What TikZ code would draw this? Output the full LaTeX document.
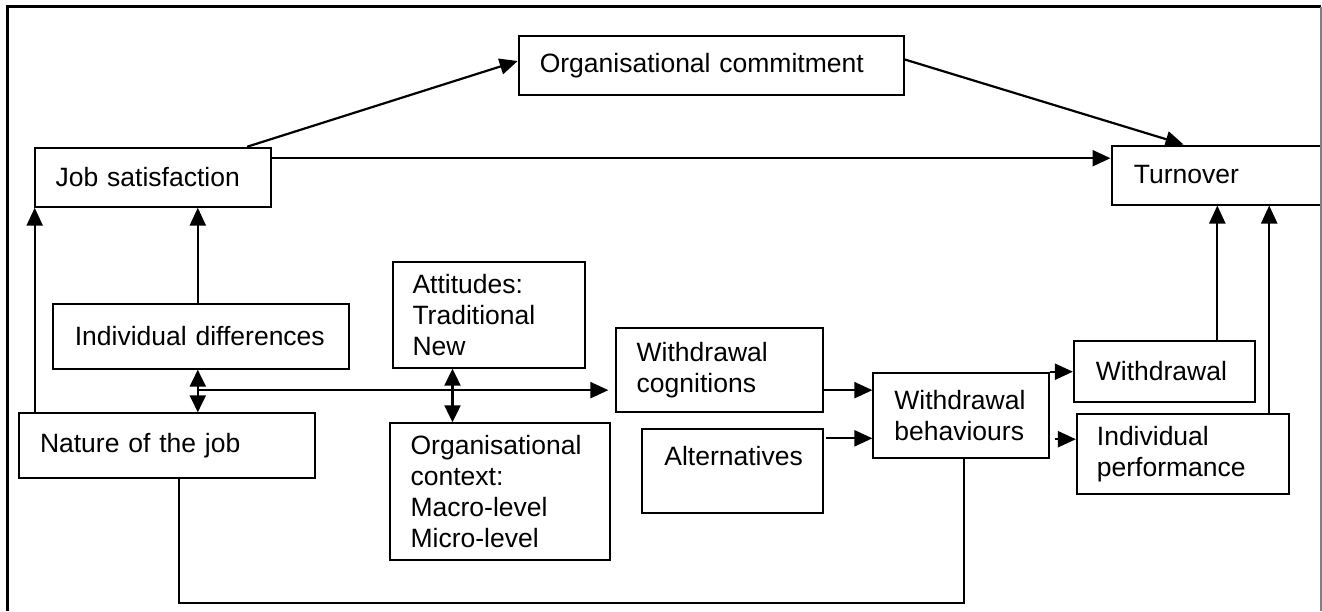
\documentclass[tikz,border=0pt]{standalone}
\usepackage{fontspec}
\setmainfont{Liberation Sans}
\usetikzlibrary{arrows.meta,calc}
\begin{document}
\begin{tikzpicture}[x=1pt,y=-1pt,
  box/.style={draw, line width=2pt, rectangle, anchor=north west, inner sep=0pt, align=left, font=\fontsize{26.5}{31}\selectfont},
  conn/.style={line width=2.2pt},
  arr/.style={conn, -{Triangle[length=18pt,width=16pt]}},
  darr/.style={conn, {Triangle[length=17pt,width=16pt]}-{Triangle[length=17pt,width=16pt]}},
  frameline/.style={line width=3.2pt},
  frameside/.style={gray, line width=1.2pt}
]
\useasboundingbox (0,0) rectangle (1322,611);

% boxes
\node[box, minimum width=385.1pt, minimum height=59pt, text width=343pt] (orgc) at (517.7,35) {Organisational~commitment};
\node[box, minimum width=236.5pt, minimum height=59pt, text width=194.5pt] (jobs) at (33.7,146.7) {Job~satisfaction};
\node[box, minimum width=212.5pt, minimum height=59pt, text width=167.7pt] (turn) at (1110.5,144.5) {Turnover};
\node[box, minimum width=296pt, minimum height=64.7pt, text width=252pt] (inddiff) at (51.8,303) {Individual~differences};
\node[box, minimum width=192.3pt, minimum height=106pt, text width=152.3pt] (att) at (391.5,260.7) {Attitudes:\\Traditional\\New};
\node[box, minimum width=296.3pt, minimum height=65pt, text width=253.7pt] (nature) at (17.7,412.3) {Nature~of~the~job};
\node[box, minimum width=220pt, minimum height=137pt, text width=178.8pt] (orgctx) at (389,422.3) {Organisational\\context:\\Macro-level\\Micro-level};
\node[box, minimum width=206.3pt, minimum height=83.7pt, text width=165.7pt] (wcog) at (615.4,327.3) {Withdrawal\\cognitions};
\node[box, minimum width=181.1pt, minimum height=84pt, text width=135.5pt] (alt) at (640.6,428.3) {Alternatives\\\mbox{}};
\node[box, minimum width=175.2pt, minimum height=85pt, text width=133.2pt] (wb) at (872.4,371.7) {Withdrawal\\behaviours};
\node[box, minimum width=181.1pt, minimum height=60.7pt, text width=137.1pt] (wd) at (1072.9,340) {Withdrawal};
\node[box, minimum width=211.9pt, minimum height=80pt, text width=171.9pt] (ip) at (1075.9,412.7) {Individual\\performance};

% frame
\draw[frameline] (7.5,611) -- (7.5,6.5) -- (1321,6.5);
\draw[frameside] (1321,6.5) -- (1321,611);

% connectors
\draw[arr] ([xshift=-25pt]jobs.north east) -- ([yshift=4.5pt]orgc.west);
\draw[arr] ([yshift=6pt]orgc.east) -- ([xshift=73pt]turn.north west);
\coordinate (js) at ([yshift=19pt]jobs.east);
\draw[arr] (js) -- (js -| turn.west);

\coordinate (jl) at ([xshift=1pt]jobs.south west);
\draw[arr] (nature.north -| jl) -- (jl);

\coordinate (dd) at ([xshift=-3pt]inddiff.north);
\draw[arr] (dd) -- (dd |- jobs.south);
\coordinate (ds) at ([xshift=-3pt]inddiff.south);
\draw[darr] (ds) -- (ds |- nature.north);
\coordinate (wc) at ([yshift=-20pt]wcog.west);
\draw[arr] (ds |- wc) -- ([xshift=-7pt]wc);

\coordinate (as) at ([xshift=61pt]att.south west);
\draw[darr] (as) -- (as |- orgctx.north);

\coordinate (wr) at ([yshift=-20pt]wcog.east);
\draw[arr] (wr) -- (wr -| wb.west);
\coordinate (ar) at ([xshift=2pt,yshift=33pt]alt.east);
\draw[arr] (ar) -- (ar -| wb.west);

\draw[arr] (wb.north east) -- (wb.north east -| wd.west);
\coordinate (br) at ([xshift=5pt,yshift=-24pt]wb.east);
\draw[arr] (br) -- (br -| ip.west);

\coordinate (wt) at ([xshift=144.4pt]wd.north west);
\draw[arr] (wt) -- (wt |- turn.south);
\coordinate (it) at ([xshift=193.3pt]ip.north west);
\draw[arr] (it) -- (it |- turn.south);

\coordinate (nx) at ([xshift=161.2pt]nature.south west);
\coordinate (wbx) at ([xshift=91.6pt]wb.south west);
\coordinate (low) at (0,603.3);
\draw[conn, line width=2pt] (nx) -- (nx |- low) -- (wbx |- low) -- (wbx);
\end{tikzpicture}
\end{document}
